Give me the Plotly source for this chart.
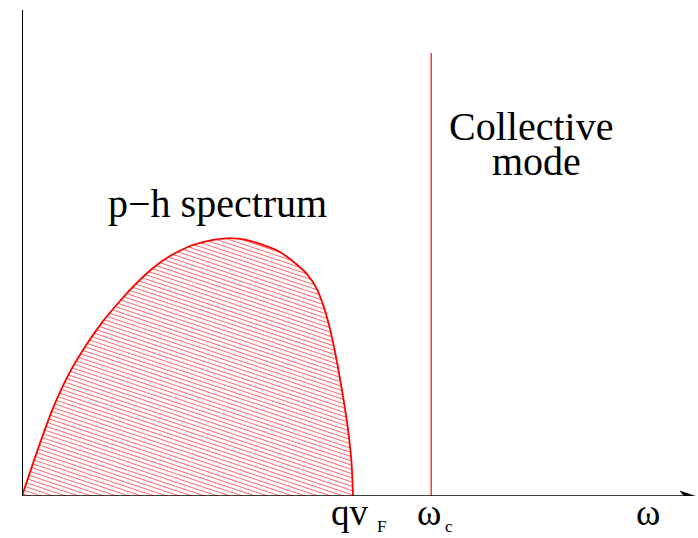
import numpy as np
import plotly.graph_objects as go

# Particle-hole continuum outline (omega in units of q*v_F, weight normalised to peak)
omega = [0.0, 0.0544, 0.0937, 0.145, 0.196, 0.245, 0.296, 0.347, 0.396, 0.447,
         0.508, 0.538, 0.583, 0.628, 0.674, 0.719, 0.779, 0.819, 0.861, 0.891,
         0.911, 0.926, 0.938, 0.952, 0.970, 0.985, 0.9955, 1.0]
weight = [0.0, 0.205, 0.341, 0.481, 0.589, 0.678, 0.756, 0.826, 0.884, 0.930,
          0.969, 0.981, 0.994, 1.0, 0.994, 0.977, 0.946, 0.909, 0.860, 0.802,
          0.736, 0.671, 0.605, 0.516, 0.384, 0.256, 0.128, 0.0]

# Collective mode position and height of its line
omega_c = 1.236
mode_top = 1.717

# Axis extents
x_max = 2.033
y_max = 1.884

# Axis label positions
label_x = {"qv": 1.0, "wc": omega_c, "w": 1.891}

W, H = 698, 538
ML, MR, MT, MB = 22, 3, 10, 42
PW, PH = W - ML - MR, H - MT - MB
sx = PW / x_max   # px per x unit
sy = PH / y_max   # px per y unit

RED = "#ff0000"
FONT = "Liberation Serif"

# Hatching: shallow lines falling to the right, clipped to the region
poly_x = np.array(omega) * sx
poly_y = np.array(weight) * sy
px_closed = np.append(poly_x, poly_x[0])
py_closed = np.append(poly_y, poly_y[0])
slope = -1 / 3.0          # in screen pixels (y up)
spacing = 4.2
c_vals = poly_y - slope * poly_x
hx, hy = [], []
c = c_vals.min() + spacing / 2
while c < c_vals.max():
    xs = []
    for i in range(len(px_closed) - 1):
        x1, y1, x2, y2 = px_closed[i], py_closed[i], px_closed[i + 1], py_closed[i + 1]
        f1 = y1 - slope * x1 - c
        f2 = y2 - slope * x2 - c
        if f1 == f2:
            continue
        if (f1 <= 0 < f2) or (f2 <= 0 < f1):
            t = f1 / (f1 - f2)
            xs.append(x1 + t * (x2 - x1))
    xs.sort()
    for a, b in zip(xs[0::2], xs[1::2]):
        hx += [a / sx, b / sx, None]
        hy += [(slope * a + c) / sy, (slope * b + c) / sy, None]
    c += spacing

fig = go.Figure()
fig.add_trace(go.Scatter(x=hx, y=hy, mode="lines",
                         line=dict(color="rgba(255,0,0,0.6)", width=1),
                         hoverinfo="skip", showlegend=False))
fig.add_trace(go.Scatter(x=omega, y=weight, mode="lines",
                         line=dict(color=RED, width=1.8, shape="spline", smoothing=0.8),
                         showlegend=False))
fig.add_trace(go.Scatter(x=[omega_c, omega_c], y=[0, mode_top], mode="lines",
                         line=dict(color=RED, width=1.2), showlegend=False))

# Axes with an arrow on omega
fig.add_shape(type="line", x0=0, y0=0, x1=0, y1=y_max, xref="x", yref="y",
              line=dict(color="black", width=2))
fig.add_shape(type="line", x0=0, y0=0, x1=x_max - 8 / sx, y1=0, xref="x", yref="y",
              line=dict(color="black", width=1.6))
head_len, head_half, notch = 15 / sx, 5 / sy, 11 / sx
fig.add_shape(type="path", xref="x", yref="y",
              path=(f"M {x_max},0 L {x_max - head_len},{head_half} "
                    f"L {x_max - notch},0 L {x_max - head_len},{-head_half} Z"),
              fillcolor="black", line=dict(color="black", width=0.5))


def label(text, x, y_px, size):
    fig.add_annotation(text=text, x=x, y=(H - MB - y_px) / PH, xref="x", yref="paper",
                       showarrow=False, xanchor="center", yanchor="middle",
                       font=dict(family=FONT, size=size, color="black"))


label("p\u2212h spectrum", (217.5 - ML) / sx, 203, 40)
label("Collective", (531 - ML) / sx, 127, 40)
label("mode", (536 - ML) / sx, 161, 40)

label("qv", label_x["qv"] - 3 / sx, 512, 37)
label("F", label_x["qv"] + 28 / sx, 526, 17)
label("\u03c9", label_x["wc"] - 2 / sx, 512, 37)
label("c", label_x["wc"] + 18 / sx, 526, 17)
label("\u03c9", label_x["w"], 512, 37)

fig.update_layout(
    width=W, height=H,
    margin=dict(l=ML, r=MR, t=MT, b=MB),
    paper_bgcolor="white", plot_bgcolor="white",
    xaxis=dict(range=[0, x_max], visible=False, fixedrange=True),
    yaxis=dict(range=[0, y_max], visible=False, fixedrange=True),
    showlegend=False,
)

fig.write_html("out.html")
